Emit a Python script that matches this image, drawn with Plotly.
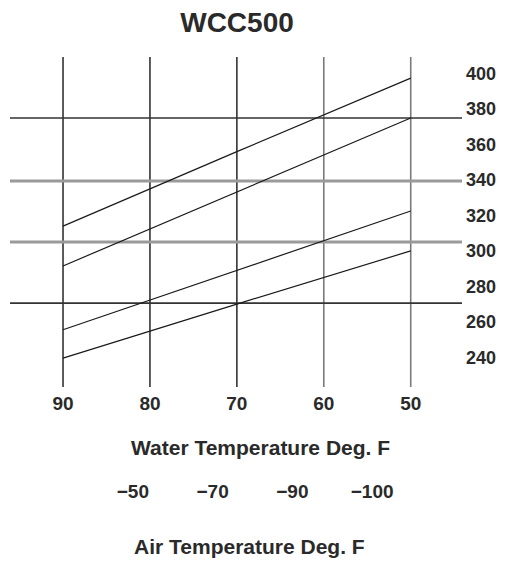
import plotly.graph_objects as go

# ---- data ----
water_temp = [90, 70, 50]                      # Water Temperature Deg. F
line_a = [314, 356, 397.5]
line_b = [291.5, 333.3, 375]
line_c = [255.5, 289, 322.5]
line_d = [239.5, 270, 300]
series = [line_a, line_b, line_c, line_d]

water_ticks = [90, 80, 70, 60, 50]
ref_levels = [375, 339.5, 305, 270.5]          # horizontal reference lines
right_ticks = [240, 260, 280, 300, 320, 340, 360, 380, 400]
air_labels = ["\u221250", "\u221270", "\u221290", "\u2212100"]

FONT = "Liberation Sans, Arial, Helvetica, sans-serif"
INK = "#2a2a2a"

# the page body has an 8px default margin; size the figure to the remaining view
OFF = 8
W, H = 507 - OFF, 561 - OFF
ml, mr, mt, mb = 10 - OFF, 45, 57 - OFF, 2
pw = W - ml - mr
ph = H - mt - mb


def px_x(X):
    return ((X - OFF) - ml) / pw


def px_y(Y):
    return (H - mb - (Y - OFF)) / ph


fig = go.Figure()

for s in series:
    fig.add_trace(go.Scatter(
        x=water_temp, y=s, mode="lines",
        line=dict(color="#1a1a1a", width=1.2),
        showlegend=False, hoverinfo="skip"))

# empty helper trace so the air-temperature axis is drawn
fig.add_trace(go.Scatter(x=list(range(len(air_labels))), y=[None] * len(air_labels),
                         xaxis="x2", yaxis="y", mode="markers",
                         showlegend=False, hoverinfo="skip"))

# vertical lines at the water-temperature ticks
vcolors = ["#333333", "#333333", "#333333", "#7a7a7a", "#7a7a7a"]
for xv, c in zip(water_ticks, vcolors):
    fig.add_shape(type="line", xref="x", yref="y domain",
                  x0=xv, x1=xv, y0=0, y1=1,
                  line=dict(color=c, width=1.6), layer="below")

# horizontal reference lines
hstyles = [("#333333", 1.6), ("#9a9a9a", 3), ("#9a9a9a", 3), ("#333333", 1.6)]
for yv, (c, w) in zip(ref_levels, hstyles):
    fig.add_shape(type="line", xref="x domain", yref="y",
                  x0=0, x1=1, y0=yv, y1=yv,
                  line=dict(color=c, width=w), layer="below")

numfont = dict(family=FONT, size=19, color=INK, weight="bold")
rightfont = dict(family=FONT, size=18, color=INK, weight="bold")

fig.update_layout(
    width=W, height=H,
    margin=dict(l=ml, r=mr, t=mt, b=mb, autoexpand=False),
    paper_bgcolor="white", plot_bgcolor="rgba(0,0,0,0)",
    title=dict(text="WCC500", x=(237 - OFF) / W, xref="container",
               y=1 - (22 - OFF) / H, yref="container", xanchor="center", yanchor="middle",
               font=dict(family=FONT, size=28, color=INK, weight="bold")),
    xaxis=dict(range=[96.1, 44.1], domain=[0, 1], anchor="y", automargin=False,
               tickvals=water_ticks, ticktext=[str(v) for v in water_ticks],
               showgrid=False, zeroline=False, showline=False, ticks="",
               ticklabelstandoff=3, tickfont=numfont),
    yaxis=dict(range=[223.2, 409.4], domain=[px_y(387), 1], side="right", automargin=False,
               tickvals=right_ticks, ticktext=[str(v) for v in right_ticks],
               showgrid=False, zeroline=False, showline=False, ticks="",
               ticklabelstandoff=3, tickfont=rightfont),
    xaxis2=dict(range=[-0.5, 3.5], domain=[px_x(93), px_x(412)],
                anchor="free", position=px_y(478), automargin=False,
                tickvals=[0, 1, 2, 3], ticktext=air_labels,
                showgrid=False, zeroline=False, showline=False, ticks="",
                tickfont=numfont),
    annotations=[
        dict(text="Water Temperature Deg. F", xref="paper", yref="paper",
             x=px_x(260), y=px_y(447), xanchor="center", yanchor="middle",
             showarrow=False,
             font=dict(family=FONT, size=21, color=INK, weight="bold")),
        dict(text="Air Temperature Deg. F", xref="paper", yref="paper",
             x=px_x(249), y=px_y(546), xanchor="center", yanchor="middle",
             showarrow=False,
             font=dict(family=FONT, size=21, color=INK, weight="bold")),
    ],
)

fig.write_html("out.html")
